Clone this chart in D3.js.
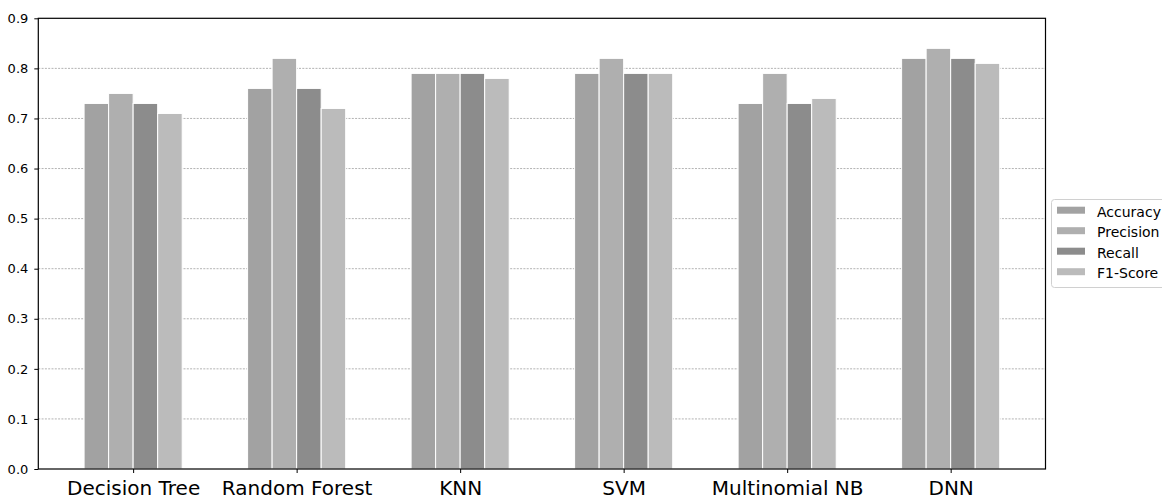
<!DOCTYPE html>
<html><head><meta charset="utf-8">
<script src="https://cdn.jsdelivr.net/npm/d3@7"></script>
<style>body{margin:0;background:#fff}svg{display:block}text{font-family:"DejaVu Sans",sans-serif}</style>
</head><body>
<svg id="c" width="1162" height="500"></svg>
<script>
const categories = ["Decision Tree","Random Forest","KNN","SVM","Multinomial NB","DNN"];
const seriesNames = ["Accuracy","Precision","Recall","F1-Score"];
const accuracy  = [0.73,0.76,0.79,0.79,0.73,0.82];
const precision = [0.75,0.82,0.79,0.82,0.79,0.84];
const recall    = [0.73,0.76,0.79,0.79,0.73,0.82];
const f1score   = [0.71,0.72,0.78,0.79,0.74,0.81];
const yTicks = [0,0.1,0.2,0.3,0.4,0.5,0.6,0.7,0.8,0.9];
const colors = ["#a2a2a2","#afafaf","#8c8c8c","#bbbbbb"];
const series = [accuracy,precision,recall,f1score];

const svg = d3.select("#c");
const L=38.3, R=1045.5, T=18.3, B=469;
const barW = 0.15;
const x = d3.scaleLinear().domain([-0.58, 5.58]).range([L,R]);
const y = d3.scaleLinear().domain([0,0.9]).range([B,T]);

// grid
svg.append("g").selectAll("line").data(yTicks.slice(1,-1)).join("line")
  .attr("x1",L).attr("x2",R).attr("y1",d=>y(d)).attr("y2",d=>y(d))
  .attr("stroke","#a0a0a0").attr("stroke-width",0.8).attr("stroke-dasharray","2,1.3");

// bars
series.forEach((vals,si)=>{
  svg.append("g").selectAll("rect").data(vals).join("rect")
    .attr("x",(d,i)=>x(i-0.3+si*barW))
    .attr("width",x(barW)-x(0))
    .attr("y",d=>y(d)).attr("height",d=>y(0)-y(d))
    .attr("fill",colors[si]).attr("stroke","#ffffff").attr("stroke-width",1);
});

// axes
const yAxis = d3.axisLeft(y).tickValues(yTicks).tickFormat(d3.format(".1f")).tickSize(4).tickPadding(6);
const gy = svg.append("g").attr("transform",`translate(${L},0)`).call(yAxis);
gy.select(".domain").remove();
gy.selectAll("text").attr("font-size",13).attr("fill","#000");
gy.selectAll("line").attr("stroke","#000").attr("stroke-width",1);

const xAxis = d3.axisBottom(x).tickValues(d3.range(categories.length)).tickFormat(i=>categories[i]).tickSize(4).tickPadding(7.5);
const gx = svg.append("g").attr("transform",`translate(0,${B})`).call(xAxis);
gx.select(".domain").remove();
gx.selectAll("text").attr("font-size",20).attr("fill","#000");
gx.selectAll("line").attr("stroke","#000").attr("stroke-width",1);

svg.append("rect").attr("x",L).attr("y",T).attr("width",R-L).attr("height",B-T)
  .attr("fill","none").attr("stroke","#000").attr("stroke-width",1.2);

// legend
const lg = svg.append("g");
lg.append("rect").attr("x",1051.5).attr("y",199.5).attr("width",115).attr("height",88).attr("rx",3)
  .attr("fill","#fff").attr("stroke","#d0d0d0").attr("stroke-width",1);
seriesNames.forEach((n,i)=>{
  const base = 216.7 + i*20.5;
  lg.append("rect").attr("x",1057).attr("y",base-10).attr("width",28).attr("height",7).attr("fill",colors[i]);
  lg.append("text").attr("x",1097).attr("y",base).attr("font-size",14).attr("fill","#000").text(n);
});
</script>
</body></html>
